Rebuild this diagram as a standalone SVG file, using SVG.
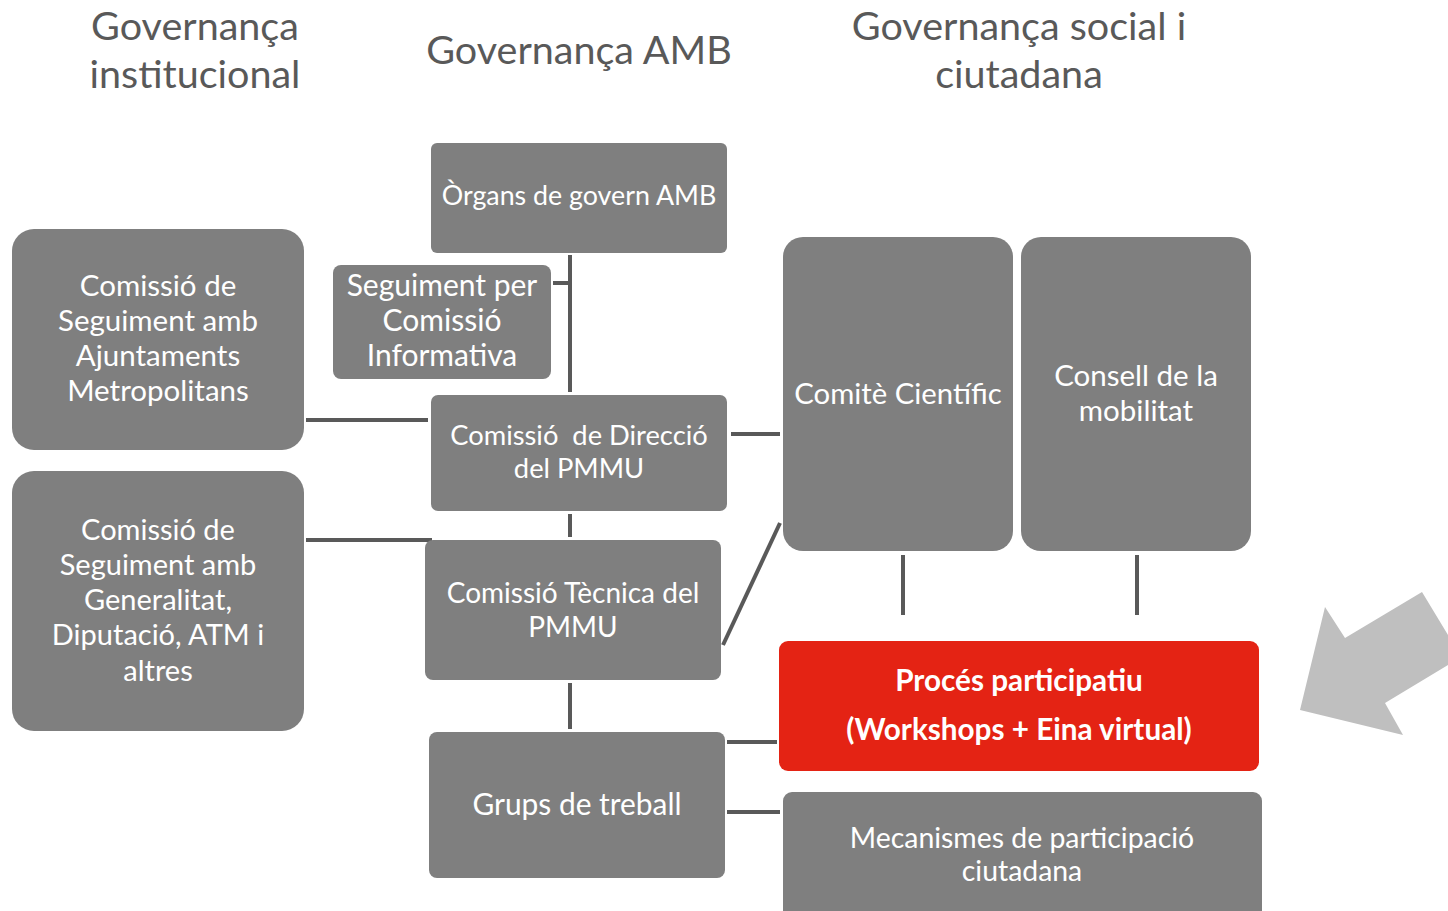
<svg xmlns="http://www.w3.org/2000/svg" width="1448" height="911" viewBox="0 0 1448 911">
<style>
.box{fill:#7f7f7f}
.red{fill:#e42314}
.t{font-family:Lato,"Open Sans","Liberation Sans",sans-serif;fill:#ffffff;text-anchor:middle;font-size:29.5px}
.h{font-family:Lato,"Open Sans","Liberation Sans",sans-serif;fill:#595959;text-anchor:middle;font-size:39.5px}
.b{font-weight:bold;font-size:29.7px}
.c{stroke:#595959;stroke-width:4;fill:none}
</style>
<rect width="1448" height="911" fill="#ffffff"/>
<g id="headers">
<text class="h" x="195" y="40">Governança</text>
<text class="h" x="195" y="88">institucional</text>
<text class="h" x="579" y="64">Governança AMB</text>
<text class="h" x="1019" y="40">Governança social i</text>
<text class="h" x="1019" y="88">ciutadana</text>
</g>
<g id="connectors">
<line class="c" x1="570" y1="255" x2="570" y2="392"/>
<line class="c" x1="553" y1="283" x2="570" y2="283"/>
<line class="c" x1="306" y1="420" x2="428" y2="420"/>
<line class="c" x1="306" y1="540" x2="432" y2="540"/>
<line class="c" x1="570" y1="514" x2="570" y2="537"/>
<line class="c" x1="731" y1="434" x2="780" y2="434"/>
<line class="c" x1="780" y1="523" x2="723" y2="645"/>
<line class="c" x1="570" y1="683" x2="570" y2="729"/>
<line class="c" x1="903" y1="555" x2="903" y2="615"/>
<line class="c" x1="1137" y1="555" x2="1137" y2="615"/>
<line class="c" x1="727" y1="742" x2="777" y2="742"/>
<line class="c" x1="727" y1="812" x2="780" y2="812"/>
</g>
<g id="n-organs">
<rect class="box" x="431" y="143" width="296" height="110" rx="6"/>
<text class="t" x="579" y="205" style="font-size:26.8px">Òrgans de govern AMB</text>
</g>
<g id="n-seguiment">
<rect class="box" x="333" y="265" width="218" height="114" rx="8"/>
<text class="t" x="442" y="296" style="font-size:30px">Seguiment per</text>
<text class="t" x="442" y="331" style="font-size:30px">Comissió</text>
<text class="t" x="442" y="366" style="font-size:30px">Informativa</text>
</g>
<g id="n-ajuntaments">
<rect class="box" x="12" y="229" width="292" height="221" rx="22"/>
<text class="t" x="158" y="296">Comissió de</text>
<text class="t" x="158" y="331">Seguiment amb</text>
<text class="t" x="158" y="366">Ajuntaments</text>
<text class="t" x="158" y="401">Metropolitans</text>
</g>
<g id="n-direccio">
<rect class="box" x="431" y="395" width="296" height="116" rx="7"/>
<text class="t" x="579" y="445" style="font-size:27.3px">Comissió&#160; de Direcció</text>
<text class="t" x="579" y="478" style="font-size:27.3px">del PMMU</text>
</g>
<g id="n-generalitat">
<rect class="box" x="12" y="471" width="292" height="260" rx="22"/>
<text class="t" x="158" y="540" style="font-size:29px">Comissió de</text>
<text class="t" x="158" y="575" style="font-size:29px">Seguiment amb</text>
<text class="t" x="158" y="610" style="font-size:29px">Generalitat,</text>
<text class="t" x="158" y="645" style="font-size:29px">Diputació, ATM i</text>
<text class="t" x="158" y="681" style="font-size:29px">altres</text>
</g>
<g id="n-tecnica">
<rect class="box" x="425" y="540" width="296" height="140" rx="8"/>
<text class="t" x="573" y="603" style="font-size:28px">Comissió Tècnica del</text>
<text class="t" x="573" y="637" style="font-size:28px">PMMU</text>
</g>
<g id="n-grups">
<rect class="box" x="429" y="732" width="296" height="146" rx="8"/>
<text class="t" x="577" y="815" style="font-size:29.9px">Grups de treball</text>
</g>
<g id="n-comite">
<rect class="box" x="783" y="237" width="230" height="314" rx="20"/>
<text class="t" x="898" y="404" style="font-size:29.3px">Comitè Científic</text>
</g>
<g id="n-consell">
<rect class="box" x="1021" y="237" width="230" height="314" rx="20"/>
<text class="t" x="1136" y="386">Consell de la</text>
<text class="t" x="1136" y="421">mobilitat</text>
</g>
<g id="n-proces">
<rect class="red" x="779" y="641" width="480" height="130" rx="9"/>
<text class="t b" x="1019" y="691">Procés participatiu</text>
<text class="t b" x="1019" y="740">(Workshops + Eina virtual)</text>
</g>
<g id="n-mecanismes">
<rect class="box" x="783" y="792" width="479" height="140" rx="9"/>
<text class="t" x="1022" y="848" style="font-size:28.4px">Mecanismes de participació</text>
<text class="t" x="1022" y="881" style="font-size:28.4px">ciutadana</text>
</g>
<g id="arrow">
<polygon fill="#bfbfbf" points="1300,710 1325,607 1345,638 1422,592 1448,635 1448,665 1385,703 1403,735"/>
</g>
</svg>
